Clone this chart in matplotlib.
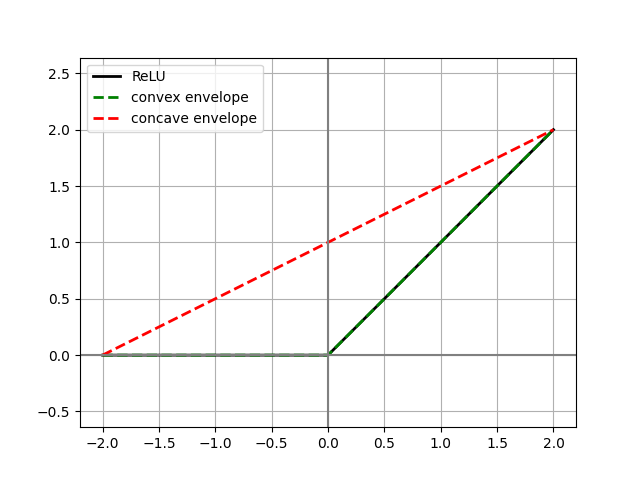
import matplotlib
matplotlib.use("Agg")
import matplotlib.pyplot as plt

# ReLU on [-2, 2] and its envelopes
x = [-2.0, 0.0, 2.0]
relu = [0.0, 0.0, 2.0]
convex_env = [0.0, 0.0, 2.0]
concave_x = [-2.0, 2.0]
concave_env = [0.0, 2.0]

fig, ax = plt.subplots(figsize=(6.4, 4.8), dpi=100)
ax.plot(x, relu, color="black", linewidth=2, label="ReLU")
ax.plot(x, convex_env, color="green", linestyle="--", linewidth=2, label="convex envelope")
ax.plot(concave_x, concave_env, color="red", linestyle="--", linewidth=2, label="concave envelope")
ax.axhline(0, color="gray")
ax.axvline(0, color="gray")
ax.grid(True)
ax.axis("equal")
ax.legend(loc="upper left")
fig.savefig("out.png")
